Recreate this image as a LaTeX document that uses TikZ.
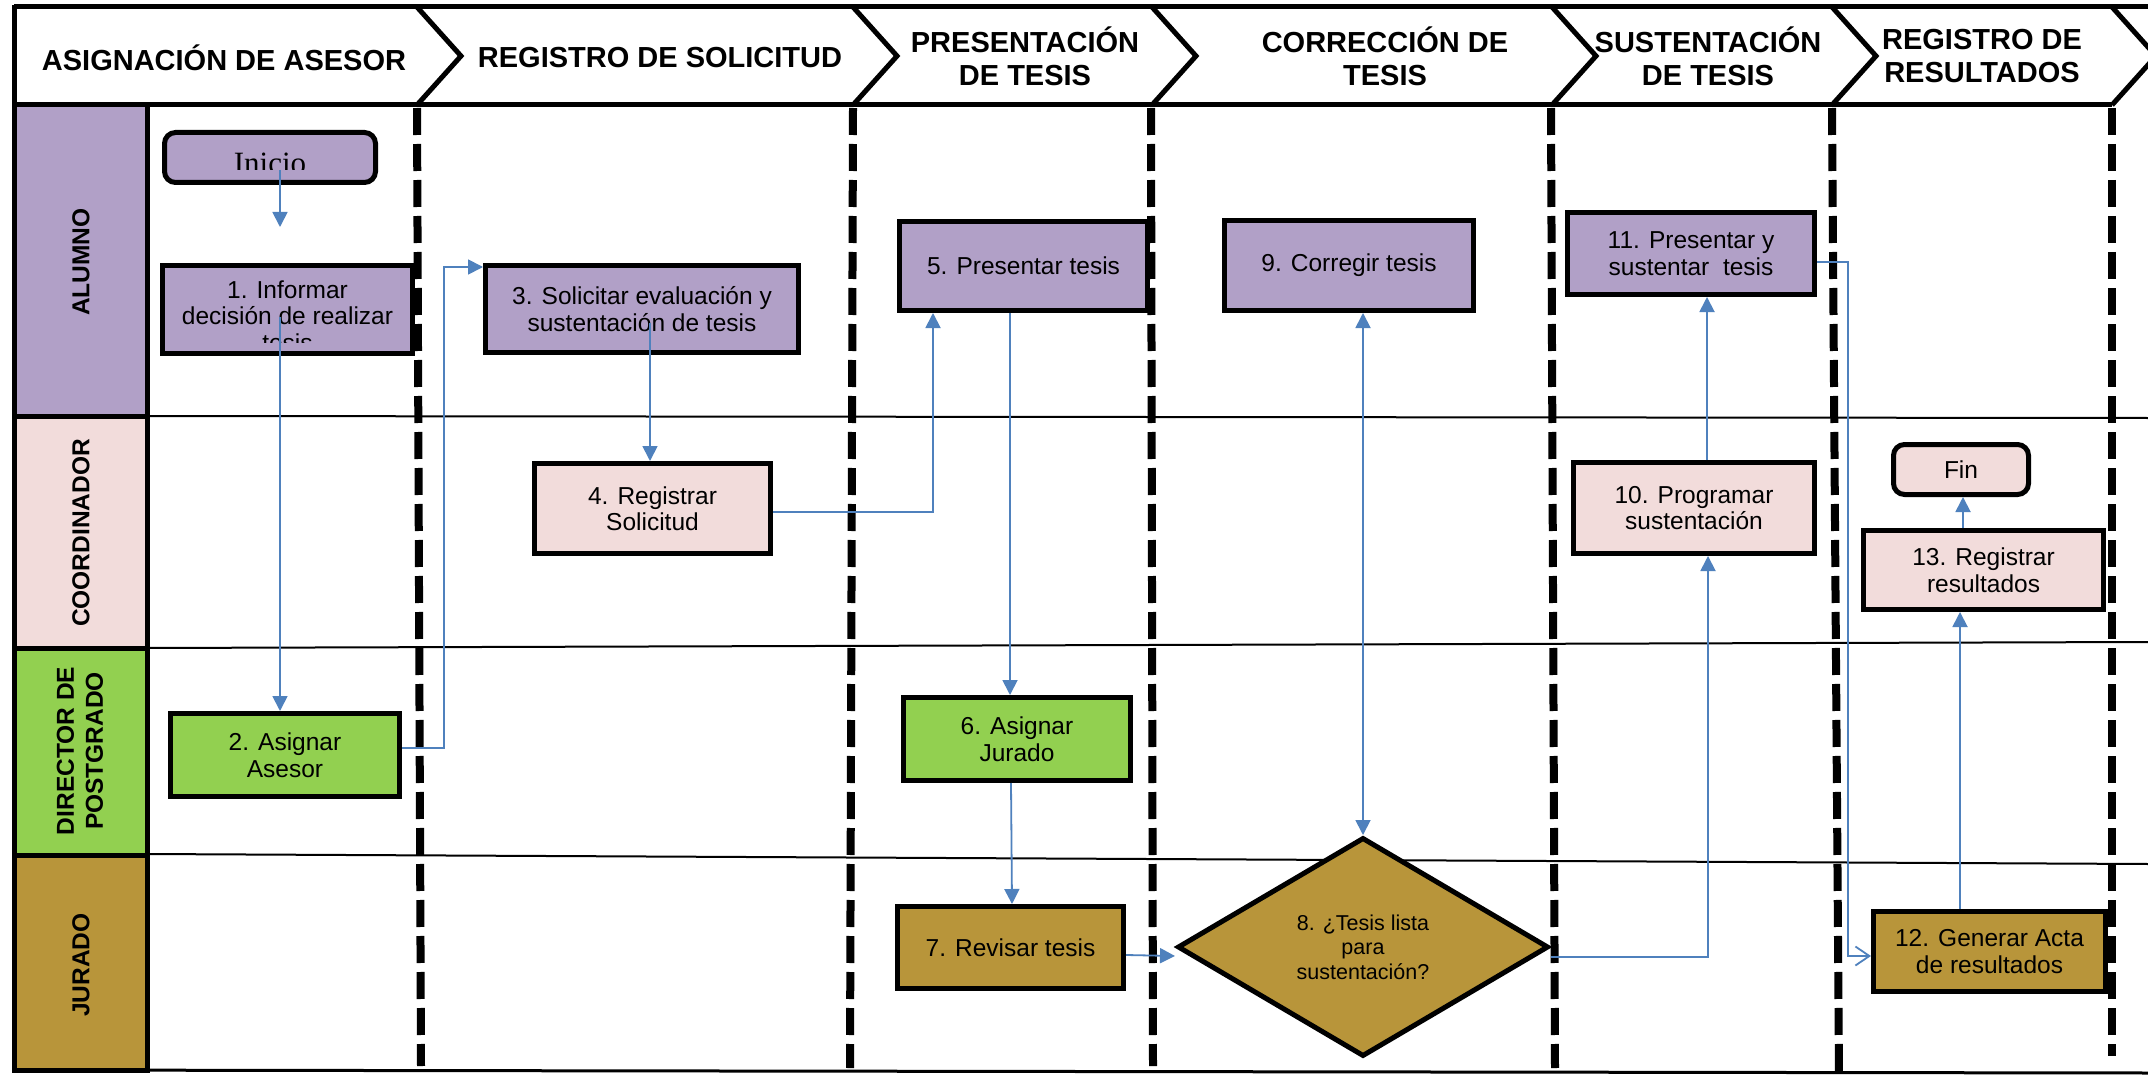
\documentclass[tikz,border=0pt]{standalone}
\usepackage{fontspec}
\setmainfont{Liberation Sans}
\newfontfamily\inifont{Liberation Serif}
\usetikzlibrary{shapes.geometric,arrows.meta,calc}
\definecolor{lila}{HTML}{B1A0C7}
\definecolor{rosa}{HTML}{F2DCDB}
\definecolor{verde}{HTML}{92D050}
\definecolor{oro}{HTML}{B8953A}
\definecolor{azul}{HTML}{4F81BD}
\begin{document}
\begin{tikzpicture}[x=1pt,y=-1pt,
  stepbox/.style={draw=black,line width=5pt,align=center,inner sep=0pt,
    font=\fontsize{24.5}{26.5}\selectfont},
  endbox/.style={stepbox,rounded corners=11pt},
  dec/.style={draw=black,line width=5pt,diamond,aspect=1.7,align=center,inner sep=0pt,
    font=\fontsize{21.5}{24.5}\selectfont},
  txt/.style={align=center,inner sep=0pt,font=\fontsize{24.5}{26.5}\selectfont},
  head/.style={align=center,inner sep=0pt,font=\bfseries\fontsize{29}{33}\selectfont},
  lanelabel/.style={align=center,inner sep=0pt,rotate=90,font=\bfseries\fontsize{24.5}{29}\selectfont},
  lanebox/.style={draw=black,line width=5pt},
  frame/.style={draw=black,line width=5pt,line join=miter},
  sepline/.style={draw=black,line width=2pt},
  colsep/.style={draw=black,line width=8pt,dash pattern=on 27pt off 9pt},
  conn/.style={draw=azul,line width=1.8pt,-{Triangle[length=15pt,width=15pt]}},
  openconn/.style={draw=azul,line width=1.8pt,-{Straight Barb[length=14pt,width=19pt]}},
  both/.style={draw=azul,line width=1.8pt,{Triangle[length=15pt,width=15pt]}-{Triangle[length=15pt,width=15pt]}}
]
\fill[white] (0,0) rectangle (2148,1078);
\useasboundingbox (0,0) rectangle (2148,1078);

% ---------- header ----------
\draw[frame] (14,7) -- (2148,7);
\draw[frame] (14,5) -- (14,105);
\draw[frame] (14,105) -- (2112,105);
\foreach \xb in {417,853,1152,1552,1832,2112}{
  \draw[frame] (\xb,7) -- (\xb+44,56) -- (\xb,105);
}
\node[head] (h1) at (224,58) {ASIGNACIÓN DE ASESOR};
\node[head] (h2) at (660,58) {REGISTRO DE SOLICITUD};
\node[head] (h3) at (1025,56) {PRESENTACIÓN\\DE TESIS};
\node[head] (h4) at (1385,56) {CORRECCIÓN DE\\TESIS};
\node[head] (h5) at (1708,56) {SUSTENTACIÓN\\DE TESIS};
\node[head] (h6) at (1982,56) {REGISTRO DE\\RESULTADOS};

% ---------- lanes ----------
\draw[sepline] (147,416) -- (2148,418);
\draw[sepline] (147,648) -- (2148,642);
\draw[sepline] (147,854) -- (2148,864);
\draw[draw=black,line width=3pt] (14,1070) -- (2148,1073);

\draw[lanebox,fill=lila] (14,105) rectangle (147,416);
\draw[lanebox,fill=rosa] (14,416) rectangle (147,648);
\draw[lanebox,fill=verde] (14,648) rectangle (147,855);
\draw[lanebox,fill=oro] (14,855) rectangle (147,1070);
\node[lanelabel] (l1) at (81,262) {ALUMNO};
\node[lanelabel] (l2) at (81,533) {COORDINADOR};
\node[lanelabel] (l3) at (80,751) {DIRECTOR DE\\POSTGRADO};
\node[lanelabel] (l4) at (81,965) {JURADO};

% ---------- column separators ----------
\draw[colsep] (417,108) -- (421,1066);
\draw[colsep] (853,108) -- (850,1068);
\draw[colsep] (1151,108) -- (1153,1066);
\draw[colsep] (1551,108) -- (1555,1068);
\draw[colsep] (1832,108) -- (1839,1078);
\draw[colsep] (2112,108) -- (2112,1056);

% ---------- nodes ----------
\node[endbox,fill=lila,minimum width=211,minimum height=50] (inicio) at (270,157.5) {};
\begin{scope}
  \clip (165,133) rectangle (375,170);
  \node[anchor=base,inner sep=0pt,font=\inifont\fontsize{31}{31}\selectfont] (initxt) at (270,174) {Inicio};
\end{scope}

\node[stepbox,fill=lila,minimum width=250,minimum height=88] (box1) at (287.5,309.5) {};
\begin{scope}
  \clip (163,266) rectangle (412,342);
  \node[txt] (t1) at (287.5,316) {1. Informar\\decisión de realizar\\tesis};
\end{scope}

\node[stepbox,fill=verde,minimum width=229,minimum height=83] (box2) at (285,755) {2. Asignar\\Asesor};
\node[stepbox,fill=lila,minimum width=313,minimum height=87] (box3) at (642,309) {3. Solicitar evaluación y\\sustentación de tesis};
\node[stepbox,fill=rosa,minimum width=236,minimum height=90] (box4) at (652.5,508.5) {4. Registrar\\Solicitud};
\node[stepbox,fill=lila,minimum width=248,minimum height=89] (box5) at (1023.5,266) {5. Presentar tesis};
\node[stepbox,fill=verde,minimum width=227,minimum height=83] (box6) at (1017,739) {6. Asignar\\Jurado};
\node[stepbox,fill=oro,minimum width=226,minimum height=82] (box7) at (1010.5,947.5) {7. Revisar tesis};
\node[dec,fill=oro,minimum width=371,minimum height=219] (d8) at (1363,947) {8. ¿Tesis lista\\para\\sustentación?};
\node[stepbox,fill=lila,minimum width=249,minimum height=90] (box9) at (1349,265.5) {9. Corregir tesis};
\node[stepbox,fill=rosa,minimum width=241,minimum height=91] (box10) at (1694,508) {10. Programar\\sustentación};
\node[stepbox,fill=lila,minimum width=247,minimum height=82] (box11) at (1691,253.5) {11. Presentar y\\sustentar\ \ tesis};
\node[stepbox,fill=oro,minimum width=232,minimum height=80] (box12) at (1989.5,951.5) {12. Generar Acta\\de resultados};
\node[stepbox,fill=rosa,minimum width=240,minimum height=79] (box13) at (1983.5,570) {13. Registrar\\resultados};
\node[endbox,fill=rosa,minimum width=135,minimum height=50] (fin) at (1961,469.5) {Fin};

% ---------- connectors ----------
\coordinate (a0s) at (280,170);
\coordinate (a0e) at (280,227);
\coordinate (c1s) at (280,317);
\coordinate (c3s) at (650,323);
\draw[conn] (a0s) -- (a0e);
\draw[conn] (c1s) -- (c1s |- box2.north);
\draw[conn] ([yshift=7pt]box2.east) -- ++(42,0) |- ([yshift=42pt]box3.west);
\draw[conn] (c3s) -- (c3s |- box4.north);
\draw[conn] ([yshift=-3.5pt]box4.east) -| ([xshift=-90.5pt]box5.south);
\draw[conn] ([xshift=-13.5pt]box5.south) -- ([xshift=-7pt]box6.north);
\draw[conn] ([xshift=-6pt]box6.south) -- ([xshift=1.5pt]box7.north);
\draw[conn] ([yshift=-7.5pt]box7.east) -- ([yshift=-9pt]d8.west);
\draw[both] (d8.north) -- (d8.north |- box9.south);
\draw[conn] ([yshift=-10pt]d8.east) -| ([xshift=14pt]box10.south);
\draw[conn] ([xshift=13pt]box10.north) -- ([xshift=16pt]box11.south);
\draw[openconn] ([yshift=-8.5pt]box11.east) -- ++(31,0) |- ([yshift=-4.5pt]box12.west);
\draw[conn] ([xshift=-29.5pt]box12.north) -- ([xshift=-23.5pt]box13.south);
\draw[conn] ([xshift=-20.5pt]box13.north) -- ([xshift=2pt]fin.south);
\end{tikzpicture}
\end{document}
